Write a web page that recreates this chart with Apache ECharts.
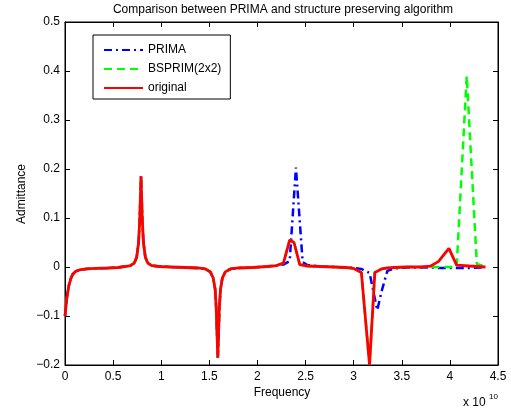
<!DOCTYPE html>
<html>
<head>
<meta charset="utf-8">
<script src="https://cdn.jsdelivr.net/npm/echarts@6/dist/echarts.min.js"></script>
<style>
html,body{margin:0;padding:0;background:#fff;}
#chart{width:511px;height:409px;}
</style>
</head>
<body>
<div id="chart"></div>
<script>
// Frequency in units of 1e10 Hz
var freq = [0.00,0.02,0.04,0.06,0.08,0.11,0.15,0.22,0.32,0.45,0.55,0.62,0.68,0.72,0.745,0.765,0.775,0.785,0.79,0.795,0.805,0.815,0.835,0.86,0.90,0.98,1.10,1.25,1.38,1.46,1.51,1.54,1.56,1.572,1.582,1.588,1.594,1.604,1.616,1.636,1.666,1.72,1.80,1.95,2.10,2.20,2.27,2.335,2.38,2.40,2.44,2.47,2.52,2.65,2.80,2.92,3.00,3.08,3.165,3.22,3.245,3.29,3.35,3.42,3.55,3.70,3.80,3.88,3.99,4.07,4.175,4.20,4.28,4.37];

var original = [-0.100,-0.062,-0.038,-0.024,-0.015,-0.009,-0.006,-0.004,-0.003,-0.002,-0.001,0.001,0.003,0.008,0.020,0.050,0.090,0.150,0.185,0.150,0.090,0.050,0.020,0.008,0.003,0.001,0.000,-0.001,-0.002,-0.004,-0.010,-0.022,-0.045,-0.085,-0.150,-0.185,-0.150,-0.085,-0.045,-0.022,-0.010,-0.004,-0.002,-0.001,0.001,0.003,0.008,0.055,0.050,null,0.005,null,0.002,0.001,0.000,-0.001,-0.003,-0.011,-0.200,-0.011,null,-0.004,-0.002,-0.001,0.000,0.000,0.002,0.011,0.038,0.004,null,0.002,null,0.000];

var prima = [-0.100,-0.062,-0.038,-0.024,-0.015,-0.009,-0.006,-0.004,-0.003,-0.002,-0.001,0.001,0.003,0.008,0.020,0.050,0.090,0.150,0.185,0.150,0.090,0.050,0.020,0.008,0.003,0.001,0.000,-0.001,-0.002,-0.004,-0.010,-0.022,-0.045,-0.085,-0.150,-0.185,-0.150,-0.085,-0.045,-0.022,-0.010,-0.004,-0.002,-0.001,0.001,0.003,0.005,0.012,null,0.203,null,0.010,0.004,0.001,0.000,-0.001,-0.002,-0.004,-0.012,null,-0.088,-0.050,-0.008,-0.003,-0.001,-0.001,-0.001,-0.002,-0.002,-0.002,null,-0.002,null,-0.001];

var bsprim = [-0.100,-0.062,-0.038,-0.024,-0.015,-0.009,-0.006,-0.004,-0.003,-0.002,-0.001,0.001,0.003,0.008,0.020,0.050,0.090,0.150,0.185,0.150,0.090,0.050,0.020,0.008,0.003,0.001,0.000,-0.001,-0.002,-0.004,-0.010,-0.022,-0.045,-0.085,-0.150,-0.185,-0.150,-0.085,-0.045,-0.022,-0.010,-0.004,-0.002,-0.001,0.001,0.003,0.008,0.055,0.050,null,0.005,null,0.002,0.001,0.000,-0.001,-0.003,-0.011,-0.200,-0.011,null,-0.004,-0.002,-0.001,0.000,0.000,0.000,0.000,0.000,0.000,0.390,null,0.006,0.001];

var seriesNames = ['PRIMA','BSPRIM(2x2)','original'];
var xTicks = {min:0, max:4.5, interval:0.5};
var yTicks = {min:-0.2, max:0.5, interval:0.1};
var titleText = 'Comparison between PRIMA and structure preserving algorithm';
var xLabel = 'Frequency';
var yLabel = 'Admittance';

var FONT = "'Liberation Sans', Arial, Helvetica, sans-serif";

function pairs(vals){
  var out = [];
  for (var i=0;i<freq.length;i++){ if (vals[i] !== null) out.push([freq[i], vals[i]]); }
  return out;
}

var chart = echarts.init(document.getElementById('chart'), null, {renderer:'canvas'});

var axisCommon = {
  axisLine:{show:true, onZero:false, lineStyle:{color:'#000', width:1}},
  axisTick:{show:true, inside:true, length:5, lineStyle:{color:'#000', width:1}},
  splitLine:{show:false}
};

function minusFmt(v){
  var s = String(Math.round(v*10)/10);
  return s.replace('-', '\u2212');
}

var option = {
  animation:false,
  backgroundColor:'#fff',
  grid:{left:65, right:13, top:22, bottom:44, show:true, borderColor:'#000', borderWidth:1, backgroundColor:'#fff'},
  xAxis:[
    Object.assign({type:'value', position:'bottom', min:xTicks.min, max:xTicks.max, interval:xTicks.interval,
      axisLabel:{color:'#000', fontFamily:FONT, fontSize:12, margin:6, formatter:function(v){return String(Math.round(v*10)/10);}}}, axisCommon),
    Object.assign({type:'value', position:'top', min:xTicks.min, max:xTicks.max, interval:xTicks.interval,
      axisLabel:{show:false}}, axisCommon)
  ],
  yAxis:[
    Object.assign({type:'value', position:'left', min:yTicks.min, max:yTicks.max, interval:yTicks.interval,
      axisLabel:{color:'#000', fontFamily:FONT, fontSize:12, margin:5, formatter:minusFmt}}, axisCommon),
    Object.assign({type:'value', position:'right', min:yTicks.min, max:yTicks.max, interval:yTicks.interval,
      axisLabel:{show:false}}, axisCommon)
  ],
  legend:{
    orient:'vertical', left:93, top:35,
    padding:[8, 9, 4, 10],
    itemWidth:39, itemHeight:14, itemGap:5,
    backgroundColor:'#fff', borderColor:'#000', borderWidth:1, borderRadius:0,
    textStyle:{color:'#000', fontFamily:FONT, fontSize:12, lineHeight:14},
    itemStyle:{opacity:0},
    data:seriesNames
  },
  series:[
    {name:seriesNames[0], type:'line', symbol:'none', showSymbol:false, data:pairs(prima),
      lineStyle:{color:'#0000ff', width:2.5, type:[8,4,2,4], cap:'butt'}, itemStyle:{color:'#0000ff', opacity:0}, z:2},
    {name:seriesNames[1], type:'line', symbol:'none', showSymbol:false, data:pairs(bsprim),
      lineStyle:{color:'#00ff00', width:2.5, type:[8,5], cap:'butt'}, itemStyle:{color:'#00ff00', opacity:0}, z:3},
    {name:seriesNames[2], type:'line', symbol:'none', showSymbol:false, data:pairs(original),
      lineStyle:{color:'#ff0000', width:2.8}, itemStyle:{color:'#ff0000', opacity:0}, z:4}
  ],
  graphic:[
    {type:'text', x:283, y:10, style:{text:titleText, fill:'#000', font:'12px '+FONT, textAlign:'center', textVerticalAlign:'middle'}},
    {type:'text', x:282, y:393, style:{text:xLabel, fill:'#000', font:'12px '+FONT, textAlign:'center', textVerticalAlign:'middle'}},
    {type:'text', x:22, y:194, rotation:Math.PI/2, style:{text:yLabel, fill:'#000', font:'12px '+FONT, textAlign:'center', textVerticalAlign:'middle'}},
    {type:'text', x:463, y:403, style:{text:'x 10', fill:'#000', font:'12px '+FONT, textAlign:'left', textVerticalAlign:'middle'}},
    {type:'text', x:489, y:397, style:{text:'10', fill:'#000', font:'8px '+FONT, textAlign:'left', textVerticalAlign:'middle'}}
  ]
};
chart.setOption(option);
</script>
</body>
</html>
